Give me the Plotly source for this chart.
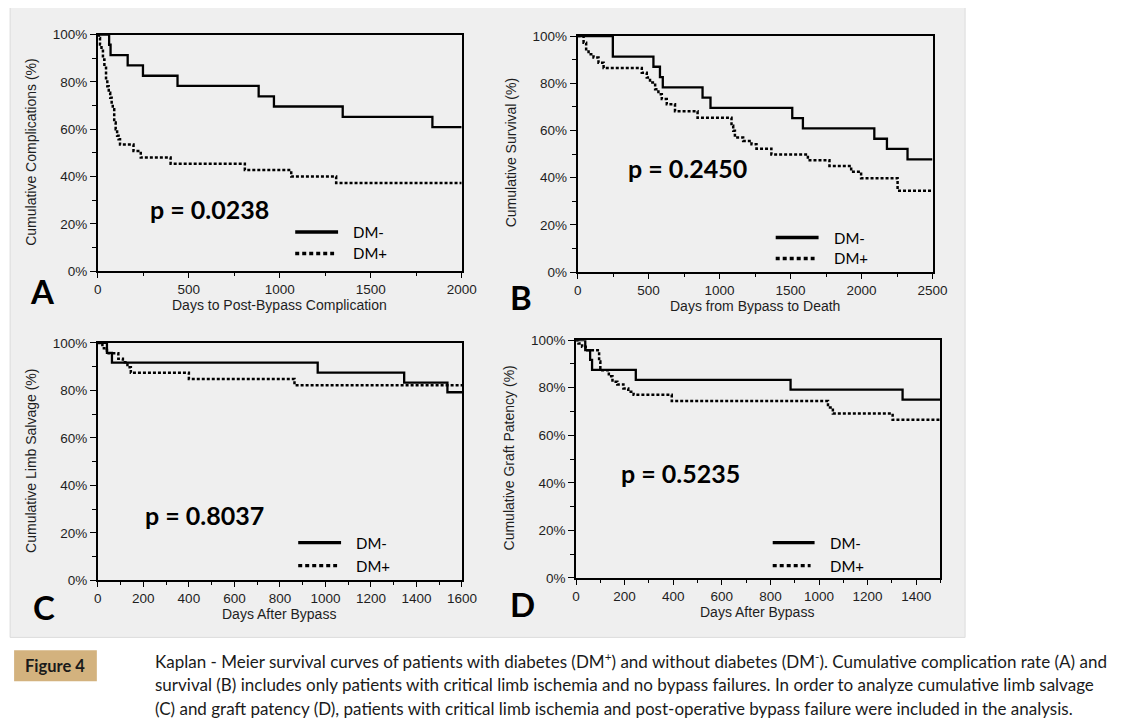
import plotly.graph_objects as go

# page is drawn with the default 8px body margin
PAGE_OFF = 8
FW, FH = 1127 - 2 * PAGE_OFF, 722
# measured mapping between page pixels and the photographed picture
SX, OX, SY, OY = 0.986, 2.0, 0.982, 6.0

# ---------------- data ----------------
# Panel A: cumulative complications
A_neg_days = [0, 62, 70, 164, 248, 438, 884, 968, 1346, 1839, 2000]
A_neg_pct = [100, 95.7, 91.3, 87.0, 82.6, 78.3, 73.9, 69.6, 65.2, 60.9, 60.9]
A_pos_days = [0, 5, 12, 20, 28, 36, 45, 52, 60, 68, 76, 82, 90, 98, 106, 114, 122,
              196, 236, 400, 808, 1063, 1310, 2000]
A_pos_pct = [100, 98.6, 95.8, 93.7, 89.5, 86.6, 81.0, 78.2, 75.4, 73.3, 70.5, 68.4, 62.8,
             60.0, 57.2, 55.8, 53.5, 50.8, 48.0, 45.4, 42.7, 40.0, 37.3, 37.3]

# Panel B: cumulative survival
B_neg_days = [0, 248, 534, 580, 600, 880, 936, 1512, 1587, 2090, 2179, 2324, 2500]
B_neg_pct = [100, 91.3, 87.0, 82.6, 78.3, 73.9, 69.6, 65.2, 60.9, 56.5, 52.2, 47.8, 47.8]
B_pos_days = [0, 42, 60, 77, 112, 147, 183, 452, 487, 510, 546, 569, 593, 628, 686, 845,
              1084, 1096, 1108, 1166, 1225, 1260, 1365, 1622, 1774, 1927, 1997, 2254, 2500]
B_pos_pct = [100, 97.2, 94.4, 92.3, 90.9, 88.7, 86.5, 84.5, 82.4, 80.3, 77.5, 75.4, 73.3,
             71.1, 68.2, 65.4, 62.0, 59.9, 57.0, 55.6, 54.2, 52.3, 49.8, 47.4, 45.0, 42.5,
             39.8, 34.5, 34.5]

# Panel C: cumulative limb salvage
C_neg_days = [0, 40, 62, 966, 1346, 1536, 1600]
C_neg_pct = [100, 95.8, 91.7, 87.5, 83.3, 79.2, 79.2]
C_pos_days = [0, 20, 40, 90, 110, 130, 145, 400, 864, 1600]
C_pos_pct = [100, 97.8, 95.6, 93.3, 91.9, 89.7, 87.4, 84.8, 82.2, 82.2]

# Panel D: cumulative graft patency
D_neg_days = [0, 38, 58, 66, 246, 883, 1344, 1500]
D_neg_pct = [100, 95.8, 91.7, 87.5, 83.3, 79.2, 75.0, 75.0]
D_pos_days = [0, 10, 25, 40, 95, 100, 135, 150, 170, 195, 215, 237, 394, 1037, 1057, 1303, 1500]
D_pos_pct = [100, 98.6, 97.2, 95.8, 91.0, 87.4, 84.8, 82.5, 81.4, 79.7, 78.3, 77.0, 74.4,
             71.7, 69.2, 66.5, 66.5]

x_ranges = [2000, 2500, 1600, 1500]
x_dticks = [500, 500, 200, 200]
x_minor = [250, 250, 100, 100]
x_titles = ["Days to Post-Bypass Complication", "Days from Bypass to Death",
            "Days After Bypass", "Days After Bypass"]
y_titles = ["Cumulative Complications (%)", "Cumulative Survival (%)",
            "Cumulative Limb Salvage (%)", "Cumulative Graft Patency (%)"]
p_values = ["p = 0.0238", "p = 0.2450", "p = 0.8037", "p = 0.5235"]
panel_letters = ["A", "B", "C", "D"]
legend_labels = ["DM-", "DM+"]

caption_title = "Figure 4"
caption_lines = [
    "Kaplan - Meier survival curves of patients with diabetes (DM<sup>+</sup>) and without diabetes (DM<sup>-</sup>). Cumulative complication rate (A) and",
    "survival (B) includes only patients with critical limb ischemia and no bypass failures. In order to analyze cumulative limb salvage",
    "(C) and graft patency (D), patients with critical limb ischemia and post-operative bypass failure were included in the analysis.",
]

series = [
    (A_neg_days, A_neg_pct, A_pos_days, A_pos_pct),
    (B_neg_days, B_neg_pct, B_pos_days, B_pos_pct),
    (C_neg_days, C_neg_pct, C_pos_days, C_pos_pct),
    (D_neg_days, D_neg_pct, D_pos_days, D_pos_pct),
]


# ---------------- layout geometry (target picture pixels) ----------------
def PX(x):
    return ((x - OX) / SX - PAGE_OFF) / FW


def PY(y):
    return 1 - ((y - OY) / SY - PAGE_OFF) / FH


boxes = [(96, 461, 33.5, 270.7), (577.3, 933.3, 35, 271.7),
         (96, 461.3, 342.7, 580.7), (575.7, 941.3, 340, 578.3)]
ytitle_pos = [(29, 151), (510, 152), (29, 461), (508, 458)]
xtitle_pos = [(278, 305), (755, 306), (278, 615), (757, 613)]
p_pos = [(208, 208), (688, 167), (203, 515), (680, 473)]
letter_pos = [(40, 291), (520, 297), (42, 608), (522, 605)]
legend_pos = [(294, 337, 231.5, 253, 350), (776, 819, 237, 258, 832),
              (297, 340, 543, 566, 353), (773, 815, 543, 566, 828)]

sans = "Liberation Sans, Arial, sans-serif"
tick_font = dict(family=sans, size=13.5, color="#1e1e1e")
label_font = "Lato, 'Open Sans', sans-serif"

fig = go.Figure()
layout = dict(
    width=FW, height=FH, margin=dict(l=0, r=0, t=0, b=0), autosize=False,
    paper_bgcolor="white", plot_bgcolor="#f8f8f8", showlegend=False,
    shapes=[], annotations=[],
)


def ann(text, x, y, size, family=label_font, xanchor="center", angle=0, color="black"):
    return dict(text=text, x=PX(x), y=PY(y), xref="paper", yref="paper", showarrow=False,
                xanchor=xanchor, yanchor="middle", textangle=angle,
                font=dict(family=family, size=size, color=color))


for i in range(4):
    sfx = "" if i == 0 else str(i + 1)
    l, r, t, b = boxes[i]
    neg_d, neg_p, pos_d, pos_p = series[i]
    fig.add_trace(go.Scatter(x=neg_d, y=neg_p, mode="lines", xaxis="x" + sfx, yaxis="y" + sfx,
                             line=dict(shape="hv", color="black", width=2.3), hoverinfo="skip"))
    fig.add_trace(go.Scatter(x=pos_d, y=pos_p, mode="lines", xaxis="x" + sfx, yaxis="y" + sfx,
                             line=dict(shape="hv", color="black", width=2.5, dash="3px,2px"),
                             hoverinfo="skip"))
    layout["xaxis" + sfx] = dict(
        domain=[PX(l), PX(r)], anchor="y" + sfx, range=[0, x_ranges[i]], tick0=0,
        dtick=x_dticks[i], ticks="outside", ticklen=5, tickwidth=1, tickcolor="black",
        showline=True, linecolor="black", linewidth=1.6, mirror=True, showgrid=False,
        zeroline=False, tickfont=tick_font,
        minor=dict(dtick=x_minor[i], tick0=0, ticks="outside", ticklen=3, tickcolor="black",
                   showgrid=False),
    )
    layout["yaxis" + sfx] = dict(
        domain=[PY(b), PY(t)], anchor="x" + sfx, range=[0, 100], tick0=0, dtick=20,
        ticksuffix="%", ticks="outside", ticklen=6, tickwidth=1, tickcolor="black",
        showline=True, linecolor="black", linewidth=1.6, mirror=True, showgrid=False,
        zeroline=False, tickfont=tick_font,
        minor=dict(dtick=10, tick0=0, ticks="outside", ticklen=4, tickcolor="black",
                   showgrid=False),
    )
    layout["annotations"].append(ann(y_titles[i], *ytitle_pos[i], 14, family=sans,
                                     angle=-90, color="#1e1e1e"))
    layout["annotations"].append(ann(x_titles[i], *xtitle_pos[i], 14, family=sans,
                                     color="#1e1e1e"))
    layout["annotations"].append(ann("<b>%s</b>" % p_values[i], *p_pos[i], 25))
    layout["annotations"].append(ann("<b>%s</b>" % panel_letters[i], *letter_pos[i], 33))
    # legend samples
    x0, x1, y_s, y_d, tx = legend_pos[i]
    layout["shapes"].append(dict(type="line", xref="paper", yref="paper", x0=PX(x0), x1=PX(x1),
                                 y0=PY(y_s), y1=PY(y_s), line=dict(color="black", width=3.4)))
    layout["shapes"].append(dict(type="line", xref="paper", yref="paper", x0=PX(x0),
                                 x1=PX(x1 - 4), y0=PY(y_d), y1=PY(y_d),
                                 line=dict(color="black", width=3.4, dash="4px,3px")))
    for lbl, yy in zip(legend_labels, (y_s, y_d)):
        layout["annotations"].append(ann(lbl, tx, yy, 15, xanchor="left"))

# background panel and caption box (below everything)
layout["shapes"] = [
    dict(type="rect", xref="paper", yref="paper", x0=PX(8), x1=PX(966), y0=PY(638), y1=PY(4),
         fillcolor="#efefef", line=dict(color="#dcdcdc", width=1), layer="below"),
    dict(type="rect", xref="paper", yref="paper", x0=PX(12), x1=PX(95), y0=PY(682), y1=PY(651),
         fillcolor="#d3b27e", line=dict(width=0), layer="below"),
] + layout["shapes"]

layout["annotations"].append(ann("<b>%s</b>" % caption_title, 53.5, 666.5, 16.5, color="#1a1a1a"))
for k, line in enumerate(caption_lines):
    layout["annotations"].append(ann(line, 151, 661 + 24 * k, 17, xanchor="left",
                                     color="#1a1a1a"))

fig.update_layout(**layout)
fig.write_html("out.html")
